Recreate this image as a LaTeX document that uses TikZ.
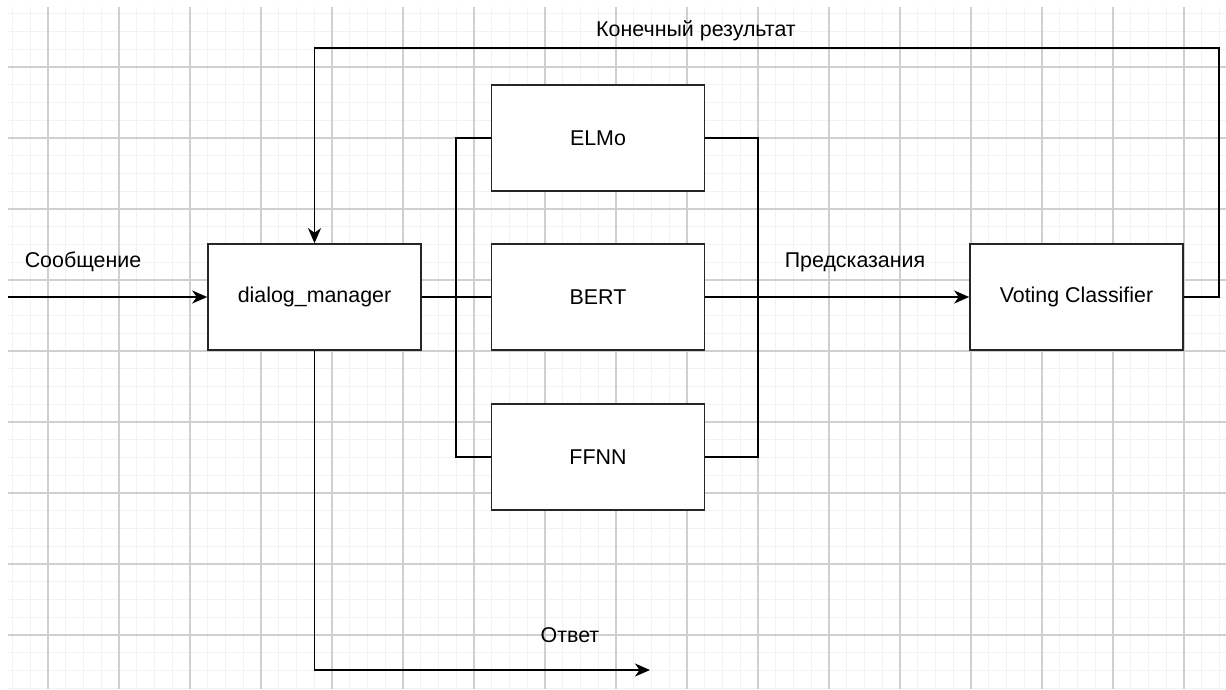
\documentclass[tikz,border=0pt]{standalone}
\usepackage{fontspec}
\setmainfont{Liberation Sans}
\usetikzlibrary{arrows.meta}
\begin{document}
\begin{tikzpicture}[x=1pt,y=-1pt,
  box/.style={draw=black!85,line width=1.6pt,fill=white,minimum width=213pt,minimum height=106pt,inner sep=0pt,font=\fontsize{21.4}{25}\selectfont},
  lbl/.style={font=\fontsize{21.4}{25}\selectfont,inner sep=0pt},
  wire/.style={draw=black,line width=1.8pt},
  arr/.style={wire,-{Stealth[length=15pt,width=13pt,inset=4.5pt]}},
  gminor/.style={draw=black!5,line width=1pt},
  gmajor/.style={draw=black!19,line width=1.2pt}]
\useasboundingbox (0,0) rectangle (1226,689);
\fill[white] (0,0) rectangle (1226,689);

% background grid
\begin{scope}
  \clip (8,7) rectangle (1226,689);
  \foreach \k in {-2,...,66} {
    \pgfmathsetmacro{\gx}{48+17.75*\k}
    \draw[gminor] (\gx,0) -- (\gx,689);
  }
  \foreach \k in {-3,...,35} {
    \pgfmathsetmacro{\gy}{67+17.75*\k}
    \draw[gminor] (0,\gy) -- (1226,\gy);
  }
  \foreach \k in {0,...,16} {
    \pgfmathsetmacro{\gx}{48+71*\k}
    \draw[gmajor] (\gx,0) -- (\gx,689);
  }
  \foreach \k in {0,...,8} {
    \pgfmathsetmacro{\gy}{67+71*\k}
    \draw[gmajor] (0,\gy) -- (1226,\gy);
  }
\end{scope}

% blocks
\node[box] (dm)   at (314.5,297) {dialog\_manager};
\node[box] (elmo) at (598,138)   {ELMo};
\node[box] (bert) at (598,297)   {BERT};
\node[box] (ffnn) at (598,457)   {FFNN};
\node[box] (vc)   at (1076.5,297) {Voting Classifier};

% routing points
\coordinate (in)    at (8,297);
\coordinate (busL)  at (456,297);
\coordinate (busR)  at (758,297);
\coordinate (fbR)   at (1219,48);
\coordinate (outE)  at (650,670);

% labels
\node[lbl] (tin)  at (83,262)  {Сообщение};
\node[lbl] (tfb)  at (696,31)  {Конечный результат};
\node[lbl] (tpr)  at (855,262) {Предсказания};
\node[lbl] (tout) at (570,635) {Ответ};

% input message
\draw[arr] (in) -- (dm.west);

% fan-out to the models
\draw[wire] (dm.east) -- (busL) |- (elmo.west);
\draw[wire] (dm.east) -- (bert.west);
\draw[wire] (busL) |- (ffnn.west);

% predictions to the voting classifier
\draw[wire] (elmo.east) -| (busR);
\draw[wire] (ffnn.east) -| (busR);
\draw[arr] (bert.east) -- (vc.west);

% final result back to the dialog manager
\draw[arr] (vc.east) -| (fbR) -| (dm.north);

% answer
\draw[arr] (dm.south) |- (outE);
\end{tikzpicture}
\end{document}
